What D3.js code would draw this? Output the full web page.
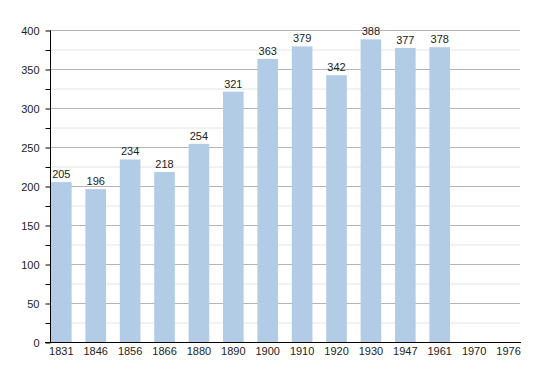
<!DOCTYPE html>
<html><head><meta charset="utf-8">
<script src="https://cdn.jsdelivr.net/npm/d3@7"></script>
<style>body{margin:0;background:#fff}svg{display:block}text{font-family:"Liberation Sans",Arial,sans-serif}</style>
</head><body><svg id="c" width="550" height="373"></svg>
<script>
const years = ["1831","1846","1856","1866","1880","1890","1900","1910","1920","1930","1947","1961","1970","1976"];
const population = [205,196,234,218,254,321,363,379,342,388,377,378,null,null];
const yTicks = [0,50,100,150,200,250,300,350,400];
const yMinor = [25,75,125,175,225,275,325,375];

const svg = d3.select("#c");
const L = 50, R = 531.6, T = 30, B = 342, gridEnd = 520;
const x = d3.scaleBand().domain(years).range([L, R]).paddingInner(0).paddingOuter(0);
const y = d3.scaleLinear().domain([0,400]).range([B, T]);
const bw = x.step()*0.6;

// minor gridlines
svg.append("g").selectAll("line").data(yMinor).join("line")
  .attr("x1", L).attr("x2", gridEnd).attr("y1", d=>y(d)+0.5).attr("y2", d=>y(d)+0.5)
  .attr("stroke", "#e4e4e4").attr("stroke-width", 1);
// major gridlines
svg.append("g").selectAll("line").data(yTicks.filter(d=>d>0)).join("line")
  .attr("x1", L).attr("x2", gridEnd).attr("y1", d=>y(d)+0.5).attr("y2", d=>y(d)+0.5)
  .attr("stroke", "#b4b4b4").attr("stroke-width", 1);

// bars
const data = years.map((yr,i)=>({yr, v: population[i]})).filter(d=>d.v!=null);
svg.append("g").selectAll("rect").data(data).join("rect")
  .attr("x", d=>x(d.yr)+1).attr("width", bw)
  .attr("y", d=>y(d.v)).attr("height", d=>B - y(d.v))
  .attr("fill", "#b3cce6");

// value labels
svg.append("g").selectAll("text").data(data).join("text")
  .attr("x", d=>x(d.yr)+1+bw/2).attr("y", d=>y(d.v)-4)
  .attr("text-anchor","middle").attr("font-size", 11).attr("fill","#222")
  .text(d=>d.v);

// y axis
const yAxis = d3.axisLeft(y).tickValues(yTicks.concat(yMinor)).tickSize(5).tickFormat(d=> yTicks.includes(d) ? d : "");
const gy = svg.append("g").attr("transform", `translate(${L+0.5},0.5)`).call(yAxis);
gy.select(".domain").attr("d", `M0,${T}V${B}`).attr("stroke","#000");
gy.selectAll(".tick line").attr("stroke","#000");
gy.selectAll(".tick text").attr("x",-11).attr("font-size",11).attr("fill","#222").attr("font-family","Liberation Sans, Arial, sans-serif");

// x axis
const xAxis = d3.axisBottom(x).tickSize(0).tickPadding(5);
const gx = svg.append("g").attr("transform", `translate(0,${B+0.5})`).call(xAxis);
gx.select(".domain").attr("d", `M${L-5},0H${gridEnd+1}`).attr("stroke","#000");
gx.selectAll(".tick").attr("transform", d=>`translate(${x(d)+1+bw/2},0)`);
gx.selectAll(".tick text").attr("font-size",11).attr("fill","#222").attr("font-family","Liberation Sans, Arial, sans-serif");
</script></body></html>
